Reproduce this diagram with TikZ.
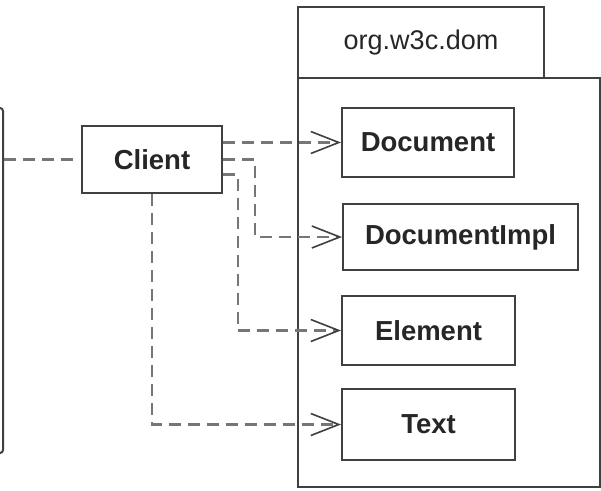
\documentclass[tikz,border=0pt]{standalone}
\usepackage{fontspec}
\setmainfont{Liberation Sans}
\usetikzlibrary{arrows.meta}
\definecolor{boxline}{HTML}{404040}
\definecolor{depline}{HTML}{767676}
\begin{document}
\begin{tikzpicture}[x=1pt,y=-1pt,
    cls/.style={draw=boxline,line width=2pt,fill=white,inner sep=0pt,
        font=\fontsize{27.5}{30}\selectfont\bfseries,text=black!85},
    dep/.style={draw=depline,line width=2.6pt,dash pattern=on 12pt off 7pt,
        -{Straight Barb[length=28pt,width=22pt,line width=1.6pt,color=boxline]}},
    >=stealth]
    \clip (0,0) rectangle (601,490);
    % package org.w3c.dom
    \draw[boxline,line width=2pt,fill=white](298,78) rectangle (600,487);
    \node[draw=boxline,line width=2pt,fill=white,minimum width=246pt,minimum height=71pt,
        font=\fontsize{27}{30}\selectfont,text=black!85](pkg) at (421,42.5){org.w3c.dom};
    % the classes
    \node[cls,minimum width=140pt,minimum height=67pt](client) at (152,159.5){Client};
    \node[cls,minimum width=172pt,minimum height=69pt](doc) at (428,142.5){Document};
    \node[cls,minimum width=235pt,minimum height=66pt](impl) at (460.5,237){DocumentImpl};
    \node[cls,minimum width=173pt,minimum height=69pt](elem) at (428.5,330.5){Element};
    \node[cls,minimum width=173pt,minimum height=71pt](txt) at (428.5,424.5){Text};
    % the box at the left edge
    \node[draw=boxline,line width=2pt,rounded corners=3pt,minimum width=100pt,
        minimum height=345pt](app) at (-47,280.5){};
    \draw[depline,line width=2.6pt,dash pattern=on 12pt off 7pt](app.east|-client) -- ([xshift=-7pt]client.west);
    % dependencies
    \draw[dep](client.east|-doc) -- (doc.west);
    \draw[dep](client.east) -- (255,159.5) |- (impl.west);
    \draw[dep]([yshift=-15pt]client.east) -- (238,174.5) |- (elem.west);
    \draw[dep](client.south) |- (txt.west);
\end{tikzpicture}
\end{document}
